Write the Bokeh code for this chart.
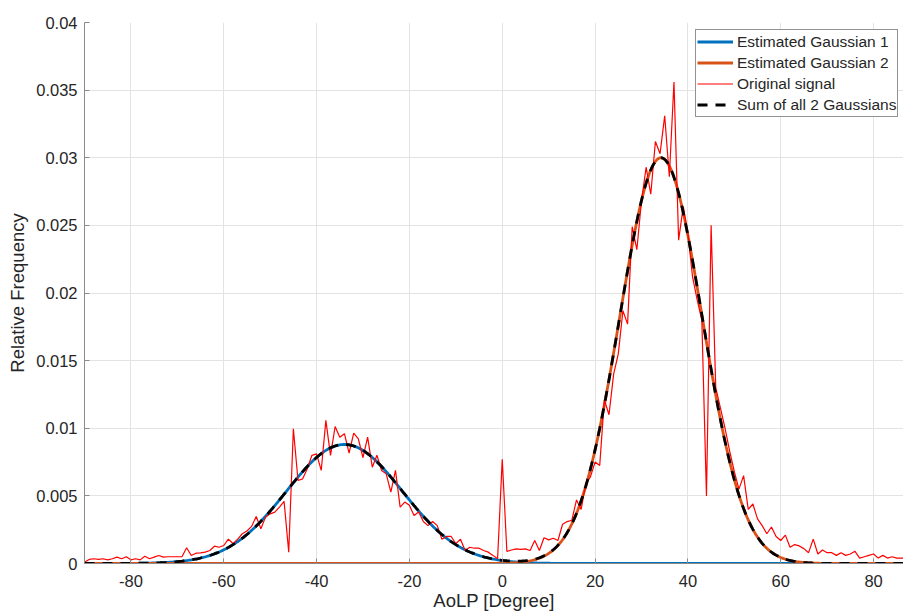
import numpy as np
from bokeh.plotting import figure
from bokeh.models import FixedTicker, Legend, LegendItem
from bokeh.embed import file_html
from bokeh.resources import INLINE

# ---------------- data ----------------
angle_deg = list(range(-90, 88))
original_signal = [
    0.0001, 0.0003, 0.00035, 0.0003, 0.00035, 0.00027, 0.00035, 0.00047, 0.00035, 0.0005,
    0.00027, 0.00035, 0.00027, 0.00054, 0.00035, 0.00047, 0.00059, 0.00047, 0.0005, 0.0005,
    0.0005, 0.0005, 0.00116, 0.00059, 0.00076, 0.00079, 0.00084, 0.00096, 0.00128, 0.0012,
    0.00133, 0.0018, 0.00146, 0.0018, 0.0022, 0.0024, 0.00274, 0.00348, 0.00257, 0.00343,
    0.00367, 0.0038, 0.00417, 0.00459, 0.00084, 0.00996, 0.00614, 0.00626, 0.0070, 0.0080,
    0.0081, 0.00688, 0.01058, 0.0080, 0.01013, 0.00934, 0.0096, 0.00816, 0.00964, 0.00922,
    0.00782, 0.00934, 0.00712, 0.0080, 0.00688, 0.00663, 0.00528, 0.00688, 0.00417, 0.00454,
    0.0043, 0.00355, 0.0038, 0.0031, 0.0028, 0.0031, 0.0028, 0.0018, 0.0020, 0.0020,
    0.00146, 0.0018, 0.00096, 0.0012, 0.00113, 0.00113, 0.00096, 0.00084, 0.0006, 0.00035,
    0.0077, 0.00089, 0.0010, 0.00108, 0.00105, 0.00108, 0.00096, 0.0017, 0.00096, 0.0019,
    0.00175, 0.00187, 0.0017, 0.0029, 0.0031, 0.0032, 0.0047, 0.0040, 0.0059, 0.0064,
    0.0075, 0.00725, 0.0121, 0.0110, 0.0140, 0.0155, 0.0187, 0.0177, 0.0249, 0.0232,
    0.0268, 0.0293, 0.0273, 0.0312, 0.0303, 0.0331, 0.0286, 0.0356, 0.0239, 0.0264,
    0.0244, 0.0212, 0.0195, 0.0180, 0.0050, 0.0250, 0.0130, 0.0115, 0.0100, 0.0083,
    0.0068, 0.0055, 0.0065, 0.0040, 0.0044, 0.0033, 0.0028, 0.0022, 0.0027, 0.0020,
    0.0017, 0.0021, 0.0012, 0.0014, 0.0013, 0.0011, 0.0008, 0.0018, 0.0007, 0.0010,
    0.0008, 0.0008, 0.0006, 0.0008, 0.0006, 0.0007, 0.0009, 0.0004, 0.0005, 0.0006,
    0.0007, 0.0004, 0.0006, 0.0004, 0.0005, 0.0004, 0.0004, 0.0004,
]

# estimated Gaussian parameters (amplitude, mean [deg], sigma [deg])
gauss1_amp, gauss1_mean, gauss1_sigma = 0.0088, -34.0, 12.5
gauss2_amp, gauss2_mean, gauss2_sigma = 0.0300, 34.2, 8.9

x_ticks = [-80, -60, -40, -20, 0, 20, 40, 60, 80]
x_tick_labels = ["-80", "-60", "-40", "-20", "0", "20", "40", "60", "80"]
y_ticks = [0, 0.005, 0.01, 0.015, 0.02, 0.025, 0.03, 0.035, 0.04]
y_tick_labels = ["0", "0.005", "0.01", "0.015", "0.02", "0.025", "0.03", "0.035", "0.04"]

legend_labels = ["Estimated Gaussian 1", "Estimated Gaussian 2", "Original signal",
                 "Sum of all 2 Gaussians"]

# ---------------- figure ----------------
FONT = "Liberation Sans"
TXT = "#262626"

p = figure(width=903, height=615, x_range=(-90, 86.45), y_range=(0, 0.04),
           output_backend="svg", toolbar_location=None,
           min_border_left=84, min_border_right=0, min_border_top=22, min_border_bottom=52)
p.outline_line_color = None
p.background_fill_color = "white"

x_fit = np.linspace(-90, 90, 721)
g1 = gauss1_amp * np.exp(-(x_fit - gauss1_mean) ** 2 / (2 * gauss1_sigma ** 2))
g2 = gauss2_amp * np.exp(-(x_fit - gauss2_mean) ** 2 / (2 * gauss2_sigma ** 2))
total = g1 + g2

r1 = p.line(x_fit, g1, line_color="#0072BD", line_width=2.8)
r2 = p.line(x_fit, g2, line_color="#D95319", line_width=2.8)
r3 = p.line(angle_deg, original_signal, line_color="#FF0000", line_width=1.2)
r4 = p.line(x_fit, total, line_color="black", line_width=2.8, line_dash="10 8")

legend = Legend(items=[LegendItem(label=legend_labels[0], renderers=[r1]),
                       LegendItem(label=legend_labels[1], renderers=[r2]),
                       LegendItem(label=legend_labels[2], renderers=[r3]),
                       LegendItem(label=legend_labels[3], renderers=[r4])],
                location=(611, 446))
legend.label_text_font = FONT
legend.label_text_font_size = "15.5px"
legend.label_text_color = TXT
legend.border_line_color = TXT
legend.border_line_width = 1
legend.background_fill_color = "white"
legend.background_fill_alpha = 1.0
legend.padding = 1
legend.spacing = 0
legend.margin = 0
legend.label_height = 21
legend.glyph_height = 21
legend.glyph_width = 36
legend.label_standoff = 4
p.add_layout(legend)

# axes
p.xaxis.ticker = FixedTicker(ticks=x_ticks)
p.yaxis.ticker = FixedTicker(ticks=y_ticks)
p.xaxis.major_label_overrides = {t: s for t, s in zip(x_ticks, x_tick_labels)}
p.yaxis.major_label_overrides = {t: s for t, s in zip(y_ticks, y_tick_labels)}

for ax in (p.xaxis[0], p.yaxis[0]):
    ax.axis_line_color = "#8a8a8a"
    ax.major_tick_line_color = "#8a8a8a"
    ax.major_tick_in = 5
    ax.major_tick_out = 0
    ax.minor_tick_line_color = None
    ax.major_label_text_font = FONT
    ax.major_label_text_font_size = "16.5px"
    ax.major_label_text_color = TXT
    ax.axis_label_text_font = FONT
    ax.axis_label_text_font_size = "18.5px"
    ax.axis_label_text_font_style = "normal"
    ax.axis_label_text_color = TXT

p.xaxis.axis_label = "AoLP [Degree]"
p.yaxis.axis_label = "Relative Frequency"
p.xaxis.major_label_standoff = 11
p.xaxis.axis_label_standoff = 0
p.yaxis.major_label_standoff = 7
p.yaxis.axis_label_standoff = 5

p.xgrid.grid_line_color = "#e3e3e3"
p.ygrid.grid_line_color = "#e3e3e3"
p.xgrid.grid_line_width = 1
p.ygrid.grid_line_width = 1

open("out.html", "w").write(file_html(p, INLINE))
